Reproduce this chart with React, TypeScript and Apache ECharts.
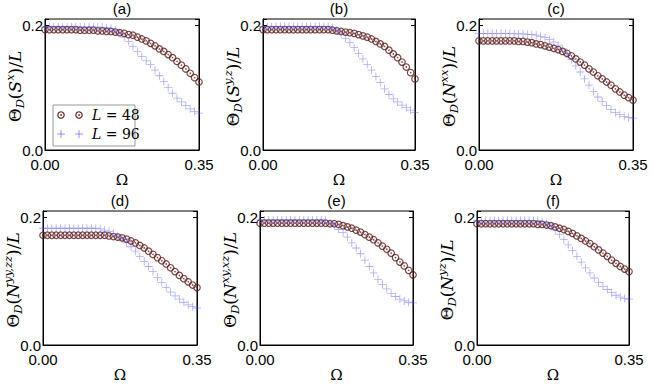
import React, { useEffect, useRef } from 'react';
import * as echarts from 'echarts';

// Omega grid (x values)
const OMEGA = [0.00,0.01,0.02,0.03,0.04,0.05,0.06,0.07,0.08,0.09,0.10,0.11,0.12,0.13,0.14,0.15,0.16,0.17,0.18,0.19,0.20,0.21,0.22,0.23,0.24,0.25,0.26,0.27,0.28,0.29,0.30,0.31,0.32,0.33,0.34,0.35];

// (a) Theta_D(S^x)/L
const A_L48 = [0.193,0.193,0.193,0.193,0.193,0.193,0.193,0.193,0.192,0.192,0.192,0.192,0.191,0.191,0.190,0.190,0.189,0.188,0.187,0.185,0.184,0.181,0.178,0.175,0.171,0.167,0.162,0.158,0.153,0.148,0.142,0.136,0.130,0.123,0.116,0.109];
const A_L96 = [0.197,0.197,0.197,0.197,0.197,0.197,0.197,0.197,0.197,0.197,0.197,0.197,0.197,0.197,0.196,0.195,0.192,0.187,0.181,0.174,0.166,0.158,0.150,0.143,0.137,0.128,0.119,0.110,0.100,0.091,0.083,0.077,0.071,0.066,0.062,0.059];
// (b) Theta_D(S^{y,z})/L
const B_L48 = [0.193,0.193,0.193,0.193,0.193,0.193,0.193,0.193,0.193,0.193,0.193,0.193,0.193,0.193,0.193,0.193,0.192,0.191,0.190,0.189,0.188,0.187,0.185,0.183,0.181,0.178,0.174,0.170,0.166,0.160,0.154,0.148,0.141,0.133,0.124,0.114];
const B_L96 = [0.198,0.198,0.198,0.198,0.198,0.198,0.198,0.198,0.198,0.198,0.198,0.198,0.198,0.198,0.198,0.198,0.196,0.192,0.186,0.179,0.172,0.164,0.155,0.146,0.137,0.128,0.118,0.108,0.098,0.089,0.082,0.077,0.072,0.068,0.064,0.060];
// (c) Theta_D(N^{xx})/L
const C_L48 = [0.175,0.175,0.175,0.175,0.175,0.175,0.175,0.175,0.175,0.174,0.174,0.173,0.172,0.170,0.169,0.167,0.165,0.163,0.161,0.158,0.155,0.151,0.146,0.141,0.136,0.130,0.125,0.119,0.114,0.109,0.104,0.098,0.093,0.088,0.084,0.080];
const C_L96 = [0.187,0.187,0.187,0.187,0.187,0.187,0.187,0.187,0.186,0.186,0.186,0.185,0.185,0.184,0.182,0.180,0.177,0.173,0.168,0.162,0.154,0.145,0.135,0.125,0.114,0.104,0.094,0.085,0.078,0.071,0.065,0.060,0.057,0.054,0.052,0.051];
// (d) Theta_D(N^{yy,zz})/L
const D_L48 = [0.172,0.172,0.172,0.172,0.172,0.172,0.172,0.172,0.172,0.172,0.172,0.172,0.172,0.172,0.172,0.171,0.170,0.169,0.168,0.166,0.163,0.160,0.156,0.152,0.147,0.142,0.137,0.132,0.127,0.121,0.115,0.109,0.104,0.099,0.094,0.090];
const D_L96 = [0.183,0.183,0.183,0.183,0.183,0.183,0.183,0.183,0.183,0.183,0.183,0.183,0.183,0.182,0.180,0.178,0.175,0.171,0.166,0.160,0.154,0.147,0.139,0.131,0.123,0.115,0.106,0.098,0.090,0.083,0.077,0.072,0.067,0.063,0.060,0.058];
// (e) Theta_D(N^{xy,xz})/L
const E_L48 = [0.191,0.191,0.191,0.191,0.191,0.191,0.191,0.191,0.191,0.191,0.191,0.191,0.191,0.191,0.191,0.191,0.190,0.190,0.189,0.187,0.185,0.183,0.180,0.177,0.173,0.169,0.165,0.160,0.155,0.150,0.144,0.137,0.130,0.124,0.117,0.110];
const E_L96 = [0.196,0.196,0.196,0.196,0.196,0.196,0.196,0.196,0.196,0.196,0.196,0.196,0.196,0.196,0.196,0.195,0.191,0.187,0.181,0.176,0.169,0.160,0.152,0.143,0.133,0.123,0.113,0.103,0.095,0.088,0.081,0.076,0.072,0.069,0.067,0.066];
// (f) Theta_D(N^{yz})/L
const F_L48 = [0.190,0.190,0.190,0.190,0.190,0.190,0.190,0.190,0.190,0.190,0.190,0.190,0.190,0.190,0.189,0.189,0.188,0.187,0.185,0.183,0.181,0.178,0.175,0.171,0.167,0.163,0.159,0.154,0.149,0.144,0.139,0.133,0.128,0.123,0.119,0.115];
const F_L96 = [0.195,0.195,0.195,0.195,0.195,0.195,0.195,0.195,0.195,0.195,0.195,0.195,0.195,0.195,0.195,0.193,0.190,0.186,0.180,0.173,0.165,0.157,0.148,0.139,0.130,0.121,0.113,0.105,0.098,0.092,0.087,0.082,0.078,0.075,0.073,0.072];

const TITLES = ['(a)', '(b)', '(c)', '(d)', '(e)', '(f)'];
const SERIES_L48 = [A_L48, B_L48, C_L48, D_L48, E_L48, F_L48];
const SERIES_L96 = [A_L96, B_L96, C_L96, D_L96, E_L96, F_L96];
const SUPERSCRIPTS = [['S', 'x'], ['S', 'y,z'], ['N', 'xx'], ['N', 'yy,zz'], ['N', 'xy,xz'], ['N', 'yz']];
const X_TICKS = [0, 0.35];
const Y_TICKS = [0, 0.2];
const LEGEND_NAMES = ['L = 48', 'L = 96'];

// layout: [left, top, width, height]
const BOXES = [
  [45, 19, 154, 131],
  [263, 19, 152, 131],
  [479, 19, 154, 131],
  [43, 211, 154, 134],
  [260, 211, 153, 134],
  [477, 211, 152, 134],
];

const MAROON = '#5e1a1a';
const BLUE = 'rgba(80,80,255,0.6)';
const PLUS = 'path://M4.5,0L5.5,0L5.5,4.5L10,4.5L10,5.5L5.5,5.5L5.5,10L4.5,10L4.5,5.5L0,5.5L0,4.5L4.5,4.5Z';
const MATH = 'DejaVu Serif';
const SANS = 'Liberation Sans';

const mathRich = {
  m: { fontFamily: MATH, fontSize: 17, lineHeight: 22, color: '#000' },
  i: { fontFamily: MATH, fontStyle: 'italic', fontSize: 17, lineHeight: 22, color: '#000' },
  sb: { fontFamily: MATH, fontStyle: 'italic', fontSize: 11.5, lineHeight: 13, verticalAlign: 'bottom', color: '#000' },
  sp: { fontFamily: MATH, fontStyle: 'italic', fontSize: 11.5, lineHeight: 13, verticalAlign: 'top', color: '#000' },
};

function yLabel(k: number) {
  const [sym, sup] = SUPERSCRIPTS[k];
  return `{m|Θ}{sb|D}{m|(}{i|${sym}}{sp|${sup}}{m|)/}{i|L}`;
}

export default function App() {
  const ref = useRef<HTMLDivElement>(null);
  useEffect(() => {
    if (!ref.current) return;
    const chart = echarts.init(ref.current, undefined, { renderer: 'svg' });
    const grids: any[] = [];
    const xAxes: any[] = [];
    const yAxes: any[] = [];
    const series: any[] = [];
    const titles: any[] = [];
    const graphics: any[] = [];
    BOXES.forEach((b, k) => {
      const [left, top, width, height] = b;
      grids.push({ left, top, width, height, show: true, borderColor: '#000', borderWidth: 1, backgroundColor: '#fff' });
      xAxes.push({
        type: 'value', gridIndex: k, min: X_TICKS[0], max: X_TICKS[1], interval: X_TICKS[1],
        axisLine: { show: true, lineStyle: { color: '#000' } },
        axisTick: { show: false },
        splitLine: { show: false },
        axisLabel: { color: '#000', fontFamily: SANS, fontSize: 15, margin: 7, formatter: (v: number) => v.toFixed(2) },
        name: 'Ω', nameLocation: 'middle', nameGap: 20,
        nameTextStyle: { fontFamily: MATH, fontSize: 15, color: '#000' },
      });
      const yCommon = {
        type: 'value', gridIndex: k, min: 0, max: 0.21, interval: Y_TICKS[1],
        axisLine: { show: true, lineStyle: { color: '#000' } },
        axisTick: { show: true, inside: true, length: 4, lineStyle: { color: '#000' } },
        splitLine: { show: false },
      };
      yAxes.push({
        ...yCommon, position: 'left',
        axisLabel: {
          color: '#000', fontFamily: SANS, fontSize: 15, margin: 2,
          formatter: (v: number) => (Y_TICKS.some((t) => Math.abs(t - v) < 1e-9) ? v.toFixed(1) : ''),
        },
      });
      yAxes.push({ ...yCommon, position: 'right', axisLabel: { show: false } });
      titles.push({
        text: TITLES[k], left: left + width / 2, top: k < 3 ? 1 : 193, textAlign: 'center', padding: 0,
        textStyle: { fontFamily: SANS, fontSize: 15, fontWeight: 'normal', color: '#000' },
      });
      graphics.push({
        type: 'text', x: left - 30, y: top + height / 2 + 2, rotation: Math.PI / 2, z: 50,
        style: { text: yLabel(k), rich: mathRich, align: 'center', verticalAlign: 'middle' },
      });
      const d48 = OMEGA.map((x, j) => [x, SERIES_L48[k][j]]);
      const d96 = OMEGA.map((x, j) => [x, SERIES_L96[k][j]]);
      series.push({
        type: 'scatter', name: 'L = 48', xAxisIndex: k, yAxisIndex: 2 * k, data: d48,
        symbol: 'circle', symbolSize: 6.5,
        itemStyle: { color: 'rgba(0,0,0,0)', borderColor: MAROON, borderWidth: 1.2 },
      });
      series.push({
        type: 'scatter', name: 'L = 48 dot', xAxisIndex: k, yAxisIndex: 2 * k, data: d48,
        symbol: 'circle', symbolSize: 1.6, itemStyle: { color: MAROON },
      });
      series.push({
        type: 'scatter', name: 'L = 96', xAxisIndex: k, yAxisIndex: 2 * k, data: d96,
        symbol: PLUS, symbolSize: 8, itemStyle: { color: BLUE },
      });
    });

    // legend in panel (a)
    const lx = 53, ly = 105;
    const legend: any[] = [
      { type: 'rect', shape: { x: lx, y: ly, width: 82, height: 41 }, style: { fill: '#fff', stroke: '#999', lineWidth: 1 } },
    ];
    [61, 79].forEach((cx) => {
      legend.push({ type: 'circle', shape: { cx, cy: ly + 10, r: 3.2 }, style: { fill: 'none', stroke: MAROON, lineWidth: 1.1 } });
      legend.push({ type: 'circle', shape: { cx, cy: ly + 10, r: 0.8 }, style: { fill: MAROON } });
      legend.push({ type: 'line', shape: { x1: cx - 4, y1: ly + 29, x2: cx + 4, y2: ly + 29 }, style: { stroke: BLUE, lineWidth: 1 } });
      legend.push({ type: 'line', shape: { x1: cx, y1: ly + 25, x2: cx, y2: ly + 33 }, style: { stroke: BLUE, lineWidth: 1 } });
    });
    LEGEND_NAMES.forEach((nm, r) => {
      const [sym, rest] = nm.split(' = ');
      legend.push({
        type: 'text', x: 92, y: ly + 10 + r * 19,
        style: {
          text: `{i|${sym}}{m| = ${rest}}`,
          rich: {
            i: { fontFamily: MATH, fontStyle: 'italic', fontSize: 14, color: '#000' },
            m: { fontFamily: MATH, fontSize: 14, color: '#000' },
          },
          verticalAlign: 'middle',
        },
      });
    });
    graphics.push({ type: 'group', z: 100, children: legend });

    chart.setOption({
      animation: false,
      backgroundColor: '#fff',
      title: titles,
      grid: grids,
      xAxis: xAxes,
      yAxis: yAxes,
      series,
      graphic: graphics,
    });
    return () => chart.dispose();
  }, []);
  return <div ref={ref} style={{ position: 'absolute', left: 0, top: 0, width: 654, height: 384 }} />;
}
